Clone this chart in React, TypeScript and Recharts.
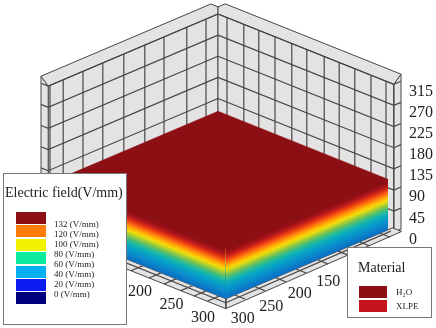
import { Scatter, ScatterChart, XAxis, YAxis } from "recharts";

// z axis (height) and the grid on both back walls
const zTicks = [0, 45, 90, 135, 180, 225, 270, 315];
const zTickLabels = ["0", "45", "90", "135", "180", "225", "270", "315"];
const rightWallGrid = [15, 43, 68, 95, 123, 148, 177, 202, 228, 255, 280, 293];
const leftWallGrid = [20, 52, 90, 122, 157, 192, 225, 258, 280];
// floor ticks
const rightFloorGrid = [13, 47, 83, 117, 153, 187, 222, 255];
const leftFloorGrid = [145, 175, 200, 228, 250, 272];
const rightFloorTicks = [150, 200, 250, 300];
const leftFloorTicks = [200, 250, 300];
// slab extents
const slabU = 283;
const slabV = 270;
const slabTop = 108;
const slabZ = [0, 4, 8, 12, 16, 20, 24, 28, 32, 36, 40, 44, 48, 52, 56, 60, 64, 68, 72, 76, 80, 84, 88, 92, 96, 100, 104];
const slabColors = [
  "#0a72c4", "#0a78c6", "#0a80c8", "#0a88ca", "#0a90cc", "#0898ca", "#08a0c6",
  "#0aa8c0", "#10b0b4", "#1cb8a4", "#34bc8c", "#54c070", "#78c454", "#a0cc38",
  "#c8d420", "#ecdc10", "#fbc808", "#ffac08", "#ff8c0c", "#fb6c10", "#f04c14",
  "#e03216", "#c82018", "#b0181a", "#9e1318", "#921016", "#8c0f14",
];
// legends
const fieldLabels = ["132", "120", "100", "80", "60", "40", "20", "0"];
const fieldColors = ["#8c0f14", "#ff7d08", "#f2f200", "#0ceaa0", "#00b0f0", "#0a1cf0", "#00007c"];
const materialLabels = ["H₂O", "XLPE"];
const materialColors = ["#8c0f14", "#c4121e"];

const WALL = "#e3e3e3";
const LINE = "#4c4646";
const TOP = "#8c0f14";
const SERIF = "'Liberation Serif', serif";

// isometric plane: u runs back-to-right, v back-to-left, z up
const pt = (u: number, v: number, z = 0) => ({
  x: 0.6 * u - 0.6 * v,
  y: 0.24 * u + 0.255 * v - 0.47 * z,
});

const noDot = () => <g />;

function poly(key: string, points: { x: number; y: number }[], fill: string, stroke: string, strokeWidth = 1) {
  return (
    <Scatter
      key={key}
      data={points}
      isAnimationActive={false}
      shape={noDot}
      line={(p: any) => (
        <polygon
          points={p.points.map((q: any) => `${q.x},${q.y}`).join(" ")}
          fill={fill}
          stroke={stroke}
          strokeWidth={strokeWidth}
          strokeLinejoin="round"
        />
      )}
    />
  );
}

function path(key: string, points: { x: number; y: number }[], strokeWidth = 1.2) {
  return (
    <Scatter
      key={key}
      data={points}
      isAnimationActive={false}
      shape={noDot}
      line={{ stroke: LINE, strokeWidth }}
    />
  );
}

function labels(key: string, points: { x: number; y: number; label: string }[], dx: number, dy: number, anchor: "start" | "middle") {
  return (
    <Scatter
      key={key}
      data={points}
      isAnimationActive={false}
      shape={(p: any) => (
        <text
          x={p.cx + dx}
          y={p.cy + dy}
          textAnchor={anchor}
          dominantBaseline="central"
          fontFamily={SERIF}
          fontSize={16}
          fill="#222"
        >
          {p.payload.label}
        </text>
      )}
    />
  );
}

export default function App() {
  const top = 330;
  const grid = 315;
  const endU = 293;
  const endV = 283;
  const t = 12;

  return (
    <div style={{ position: "absolute", left: 0, top: 0, width: 436, height: 328, background: "#fff", overflow: "hidden", filter: "blur(0.35px)" }}>
      <ScatterChart width={436} height={328} margin={{ top: 0, right: 0, bottom: 0, left: 0 }}>
        <XAxis type="number" dataKey="x" domain={[-218, 218]} hide />
        <YAxis type="number" dataKey="y" domain={[-162, 166]} reversed hide />

        {/* walls */}
        {poly("lw", [pt(0, 0), pt(0, endV), pt(0, endV, grid), pt(0, 0, grid)], WALL, LINE)}
        {poly("lc", [pt(0, endV), pt(-t, endV), pt(-t, endV, top), pt(0, endV, grid)], WALL, LINE)}
        {poly("lt", [pt(-t, endV, top), pt(-t, 0, top), pt(0, 0, top), pt(0, 0, grid), pt(0, endV, grid)], WALL, LINE)}
        {poly("rw", [pt(0, 0), pt(endU, 0), pt(endU, 0, grid), pt(0, 0, grid)], WALL, LINE)}
        {poly("rc", [pt(endU, 0), pt(endU, -t), pt(endU, -t, top), pt(endU, 0, grid)], WALL, LINE)}
        {poly("rt", [pt(endU, -t, top), pt(0, -t, top), pt(0, 0, top), pt(0, 0, grid), pt(endU, 0, grid)], WALL, LINE)}

        {/* wall grid */}
        {leftWallGrid.map((v) => path(`lv${v}`, [pt(0, v), pt(0, v, grid)]))}
        {rightWallGrid.map((u) => path(`rv${u}`, [pt(u, 0), pt(u, 0, grid)]))}
        {zTicks.map((z) => path(`lz${z}`, [pt(-t, endV, z), pt(0, endV, z), pt(0, 0, z)]))}
        {zTicks.map((z) => path(`rz${z}`, [pt(endU, -t, z), pt(endU, 0, z), pt(0, 0, z)]))}

        {/* floor strip */}
        {poly("fr", [pt(slabU, -8), pt(298, -8), pt(303, 290), pt(slabU, slabV)], WALL, LINE)}
        {poly("fl", [pt(0, slabV), pt(slabU, slabV), pt(303, 290), pt(0, 290)], WALL, LINE)}
        {path("frm", [pt(288, 0), pt(291, 278)])}
        {path("flm", [pt(0, 278), pt(291, 278)])}
        {rightFloorGrid.map((v) => path(`ft${v}`, [pt(slabU, v), pt(300, v)]))}
        {leftFloorGrid.map((u) => path(`fu${u}`, [pt(u, slabV), pt(u, 290)]))}
        {path("fc", [pt(slabU, slabV), pt(303, 290)])}

        {/* slab: each band reaches to the top so the next one paints over it, no seams */}
        {slabColors.map((c, i) =>
          poly(`sl${i}`, [pt(0, slabV, slabZ[i]), pt(slabU, slabV, slabZ[i]), pt(slabU, slabV, slabTop), pt(0, slabV, slabTop)], c, "none")
        )}
        {slabColors.map((c, i) =>
          poly(`sr${i}`, [pt(slabU, 0, slabZ[i]), pt(slabU, slabV, slabZ[i]), pt(slabU, slabV, slabTop), pt(slabU, 0, slabTop)], c, "none")
        )}
        {poly("top", [pt(0, 0, slabTop), pt(slabU, 0, slabTop), pt(slabU, slabV, slabTop), pt(0, slabV, slabTop)], TOP, TOP, 0.5)}

        {/* tick labels */}
        {labels("zl", zTicks.map((z, i) => ({ ...pt(endU, -t, z), label: zTickLabels[i] })), 8, 9, "start")}
        {labels("rl", rightFloorTicks.map((v) => ({ ...pt(323, v * 0.95), label: String(v) })), 2, 5, "middle")}
        {labels("ll", leftFloorTicks.map((u) => ({ ...pt(u * 1.05, 300), label: String(u) })), -24, 2, "middle")}
      </ScatterChart>

      {/* electric field legend */}
      <div style={{ position: "absolute", left: 3, top: 173, width: 122, height: 150, background: "#fff", border: "1px solid #777", fontFamily: SERIF }}>
        <div style={{ position: "absolute", left: 1, top: 11, fontSize: 14, whiteSpace: "nowrap", color: "#222" }}>Electric field(V/mm)</div>
        {fieldColors.map((c, i) => (
          <div key={c} style={{ position: "absolute", left: 12, top: 38 + i * 13.4, width: 30, height: 12, background: c }} />
        ))}
        {fieldLabels.map((l, i) => (
          <div key={l} style={{ position: "absolute", left: 50, top: 45 + i * 10.05, fontSize: 9, lineHeight: "10px", whiteSpace: "nowrap", color: "#222" }}>
            {l} (V/mm)
          </div>
        ))}
      </div>

      {/* material legend */}
      <div style={{ position: "absolute", left: 347, top: 247, width: 83, height: 69, background: "#fff", border: "1px solid #777", fontFamily: SERIF }}>
        <div style={{ position: "absolute", left: 10, top: 12, fontSize: 14, color: "#222" }}>Material</div>
        {materialColors.map((c, i) => (
          <div key={c} style={{ position: "absolute", left: 11, top: 38 + i * 14, width: 28, height: 12, background: c }} />
        ))}
        {materialLabels.map((l, i) => (
          <div key={l} style={{ position: "absolute", left: 48, top: 39 + i * 14, fontSize: 9, lineHeight: "10px", color: "#222" }}>
            {l}
          </div>
        ))}
      </div>
    </div>
  );
}
